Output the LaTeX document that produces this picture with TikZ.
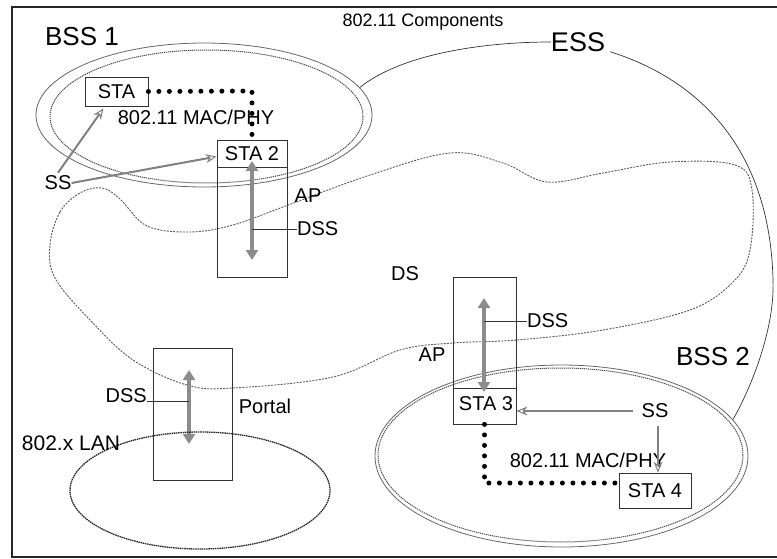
\documentclass[tikz,border=0pt]{standalone}
\usepackage{fontspec}
\setmainfont{Liberation Sans}
\usetikzlibrary{shapes.geometric,arrows.meta}
\begin{document}
\begin{tikzpicture}[x=1pt,y=-1pt,
  lbl/.style={inner sep=0pt, font=\fontsize{20}{22}\selectfont},
  big/.style={inner sep=0pt, font=\fontsize{26}{28}\selectfont},
  boxx/.style={draw=black!80, line width=0.8pt, inner sep=0pt, rectangle, font=\fontsize{20}{22}\selectfont},
  ringout/.style={ellipse, draw=black!60, line width=0.8pt, inner sep=0pt},
  ringin/.style={ellipse, draw=black!70, line width=1pt, dash pattern=on 1.2pt off 0.8pt, inner sep=0pt},
  dsspath/.style={line width=3.8pt, draw=black!45, {Triangle[length=10pt,width=12pt]}-{Triangle[length=10pt,width=12pt]}},
  ssarrow/.style={line width=2pt, draw=black!50, -{Stealth[length=11pt,width=9pt,open,line width=1pt]}},
  dotline/.style={line width=5pt, line cap=round, dash pattern=on 0pt off 10.5pt, black},
  thinline/.style={line width=0.7pt, black!80},
  dsline/.style={line width=0.9pt, black!65, dash pattern=on 2pt off 1.2pt},
]
\useasboundingbox (0,0) rectangle (777,559);
\draw[line width=2.5pt, black!85] (777,7) -- (12,7) -- (12,557) -- (777,557);

% DS region
\draw[dsline] plot[smooth cycle, tension=0.6] coordinates {
 (50,245) (60,212) (80,193) (102,188) (120,199) (147,226) (190,232) (233,225) (283,207) (370,175) (450,153)
 (503,163) (547,182) (603,173) (670,162) (735,165) (752,190) (750,250) (733,282)
 (690,310) (603,330) (517,340) (453,343) (400,350) (333,377) (233,388) (187,385)
 (133,360) (90,320) (55,278)};
\node[lbl] (ds) at (405,274) {DS};

% title and labels
\node[inner sep=0pt, font=\fontsize{18}{20}\selectfont] (title) at (423,22) {802.11 Components};
\node[big] (bss1lbl) at (82,37) {BSS 1};

% BSS 1
\node[ringout, minimum width=336pt, minimum height=144pt] (bss1) at (204,115) {};
\node[ringin, minimum width=313pt, minimum height=133pt] (bss1in) at (206.5,116.5) {};
\node[boxx, minimum width=63pt, minimum height=29pt] (sta1) at (116.5,91.5) {STA};
\node[lbl] (mac1) at (196,117) {802.11 MAC/PHY};

% AP 1
\node[boxx, minimum width=70pt, minimum height=137pt] (ap1) at (252,208.5) {};
\draw[thinline] ([yshift=-28pt]ap1.north west) -- ([yshift=-28pt]ap1.north east);
\node[lbl] (sta2) at (252,154) {STA 2};
\coordinate (a1t) at (252,161);
\coordinate (a1b) at (252,260);
\draw[dsspath] (a1t) -- (a1b);
\node[lbl, anchor=west] (dss1) at (297,229) {DSS};
\draw[thinline] (dss1.west) -- (dss1.west -| a1t);
\node[lbl] (ap1lbl) at (308,196) {AP};

\coordinate (d1) at (252,91);
\draw[dotline] (sta1.east) -- (d1) -- (ap1.north);

% SS 1
\node[lbl] (ss1) at (58,183) {SS};
\draw[ssarrow] ([yshift=3pt]ss1.north) -- ([xshift=-13pt,yshift=-2pt]sta1.south);
\draw[ssarrow] (ss1.east) -- ([yshift=-17pt]ap1.north west);

% ESS
\node[big, font=\fontsize{27}{29}\selectfont] (ess) at (578,42) {ESS};

% BSS 2
\node[ringout, minimum width=373pt, minimum height=182pt] (bss2) at (561.5,456) {};
\node[ringin, minimum width=365pt, minimum height=174pt] (bss2in) at (560.5,455) {};
\node[big] (bss2lbl) at (713,357) {BSS 2};

\draw[thinline] (bss1.10) .. controls (400,55) and (480,42) .. (ess.west);
\draw[thinline] ([xshift=5pt]ess.south east) .. controls (700,80) and (770,150) .. (773,280)
   .. controls (775,330) and (750,390) .. (bss2.12);

% Portal
\node[boxx, minimum width=79pt, minimum height=132pt] (portal) at (192.5,414) {};
\coordinate (p1t) at (189,370);
\coordinate (p1b) at (189,444);
\draw[dsspath] (p1t) -- (p1b);
\node[lbl, anchor=east] (dss3) at (147,396) {DSS};
\coordinate (l3) at ([yshift=-5pt]dss3.east);
\draw[thinline] (l3) -- (l3 -| p1t);
\node[lbl] (portallbl) at (265,406) {Portal};

% LAN
\node[ellipse, draw=black!85, line width=1.3pt, dash pattern=on 1.5pt off 0.7pt,
      minimum width=260pt, minimum height=117pt, inner sep=0pt] (lan) at (200,490.5) {};
\node[lbl, font=\fontsize{21}{23}\selectfont] (lanlbl) at (71,443) {802.x LAN};

% AP 2
\node[boxx, minimum width=63pt, minimum height=147pt] (ap2) at (484.5,350.5) {};
\draw[thinline] ([yshift=-112pt]ap2.north west) -- ([yshift=-112pt]ap2.north east);
\node[lbl] (sta3) at (486,404) {STA 3};
\coordinate (a2t) at (484,298);
\coordinate (a2b) at (484,392);
\draw[dsspath] (a2t) -- (a2b);
\node[lbl, anchor=west] (dss2) at (527,321) {DSS};
\draw[thinline] (dss2.west) -- (dss2.west -| a2t);
\node[lbl] (ap2lbl) at (432,355) {AP};

% STA 4 and SS 2
\node[boxx, minimum width=72pt, minimum height=35pt] (sta4) at (655,490.5) {STA 4};
\node[lbl] (mac2) at (588,460) {802.11 MAC/PHY};
\node[lbl] (ss2) at (655,411) {SS};
\draw[ssarrow] ([xshift=-8pt]ss2.west) -- (ap2.east |- ss2.west);
\draw[ssarrow] ([xshift=3pt,yshift=-8pt]ss2.south) -- ([xshift=3pt]sta4.north);

\coordinate (d2) at (484.5,483);
\coordinate (d3) at (sta4.west |- d2);
\draw[dotline] (ap2.south) -- (d2) -- (d3);
\end{tikzpicture}
\end{document}
